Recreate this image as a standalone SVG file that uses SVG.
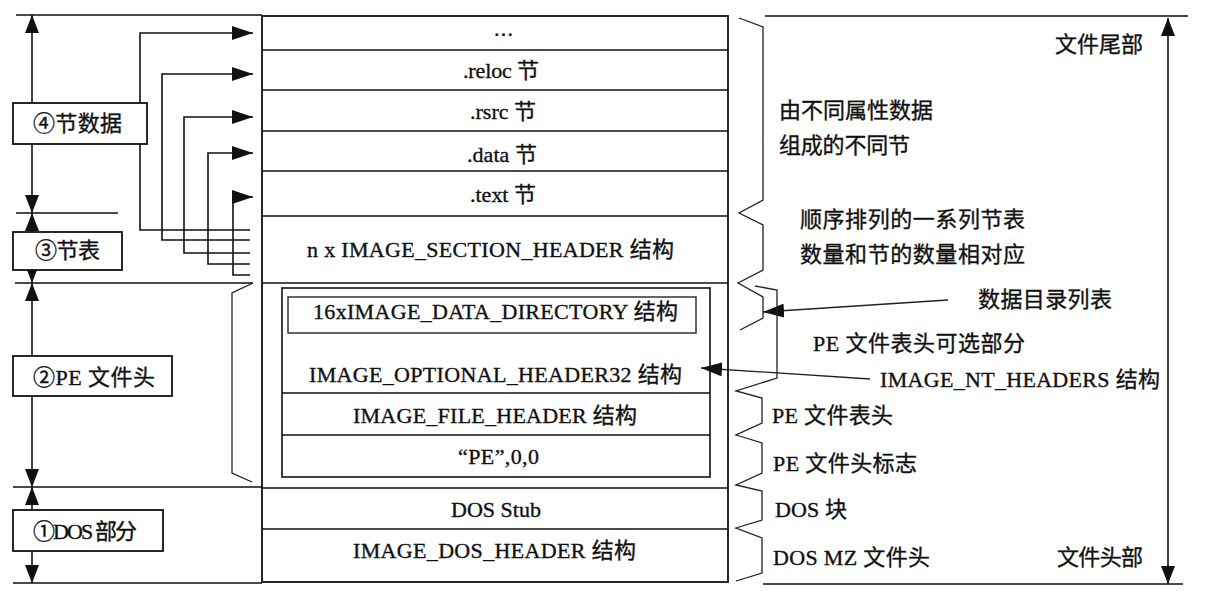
<svg xmlns="http://www.w3.org/2000/svg" width="1206" height="591" viewBox="0 0 1206 591">
<style>
text{font-family:"Liberation Serif","Noto Sans CJK SC",serif;font-size:22px;fill:#111;stroke:#111;stroke-width:0.35}
.cj{font-family:"Noto Sans CJK SC",sans-serif}
.ln{fill:none;stroke:#111;stroke-width:1.6}
.bx{fill:#fff;stroke:#111;stroke-width:1.8}
.frame{fill:none;stroke:#111;stroke-width:1.8}
.thin{fill:none;stroke:#222;stroke-width:1.3}
</style>
<defs>
<marker id="ah" markerUnits="userSpaceOnUse" markerWidth="21" markerHeight="14" refX="21" refY="7" orient="auto-start-reverse"><path d="M0,0 L21,7 L0,14 z" fill="#111"/></marker>
<marker id="av" markerUnits="userSpaceOnUse" markerWidth="18" markerHeight="14" refX="18" refY="7" orient="auto-start-reverse"><path d="M0,0 L18,7 L0,14 z" fill="#111"/></marker>
</defs>
<rect width="1206" height="591" fill="#fff"/>

<g id="guides">
<path class="ln" d="M16,15 H262 M16,213 H118 M15,283 H253 M13,487 H262 M13,583 H262 M765,16 H1188 M763,584 H1183"/>
</g>

<g id="main">
<rect class="frame" x="262" y="16" width="466" height="566"/>
<path class="ln" d="M262,50 H728 M262,90 H728 M262,131 H728 M262,171 H728 M262,216 H728 M262,283 H728 M262,488 H728 M262,529 H728"/>
<g id="r-dots"><text x="494" y="36" textLength="19">...</text></g>
<g id="r-reloc"><text x="463" y="78" textLength="76">.reloc 节</text></g>
<g id="r-rsrc"><text x="470" y="119" textLength="66">.rsrc 节</text></g>
<g id="r-data"><text x="467" y="162" textLength="70">.data 节</text></g>
<g id="r-text"><text x="470" y="202" textLength="66">.text 节</text></g>
<g id="r-sechdr"><text x="307" y="257" textLength="367">n x IMAGE_SECTION_HEADER 结构</text></g>
<g id="r-nt">
<rect class="ln" x="282" y="288" width="428" height="189"/>
<path class="ln" d="M282,393 H710 M282,435 H710"/>
<g id="r-datadir"><rect x="288" y="297" width="408" height="36" fill="none" stroke="#333" stroke-width="1.5"/><text x="313" y="319" textLength="365">16xIMAGE_DATA_DIRECTORY 结构</text></g>
<g id="r-opt"><text x="309" y="382" textLength="373">IMAGE_OPTIONAL_HEADER32 结构</text></g>
<g id="r-file"><text x="353" y="423" textLength="284">IMAGE_FILE_HEADER 结构</text></g>
<g id="r-sig"><text x="458" y="464" textLength="81">“PE”,0,0</text></g>
</g>
<g id="r-stub"><text x="451" y="517" textLength="90">DOS Stub</text></g>
<g id="r-dos"><text x="353" y="558" textLength="283">IMAGE_DOS_HEADER 结构</text></g>
</g>

<g id="connectors">
<path class="ln" d="M250,230 H140 V33 H253" marker-end="url(#ah)"/>
<path class="ln" d="M250,240 H162 V74 H253" marker-end="url(#ah)"/>
<path class="ln" d="M250,253 H184 V117 H253" marker-end="url(#ah)"/>
<path class="ln" d="M250,264 H208 V153 H253" marker-end="url(#ah)"/>
<path class="ln" d="M250,275 H233 V197 H253" marker-end="url(#ah)"/>
<path class="ln" d="M32,103 V15" marker-end="url(#av)"/>
<path class="ln" d="M32,144 V213" marker-end="url(#av)"/>
<path class="ln" d="M32,232 V213" marker-end="url(#av)"/>
<path class="ln" d="M32,270 V283" marker-end="url(#av)"/>
<path class="ln" d="M32,356 V283" marker-end="url(#av)"/>
<path class="ln" d="M32,396 V487" marker-end="url(#av)"/>
<path class="ln" d="M32,510 V487" marker-end="url(#av)"/>
<path class="ln" d="M32,551 V583" marker-end="url(#av)"/>
<path class="ln" d="M1168,584 V18" marker-start="url(#av)" marker-end="url(#av)"/>
<path class="thin" d="M948,300 L763,312" marker-end="url(#ah)"/>
<path class="thin" d="M870,379 L701,368" marker-end="url(#ah)"/>
</g>

<g id="braces">
<polyline class="thin" points="253,283 232,293 232,473 252,482"/>
<polyline class="thin" points="739,18 763,27 763,200 739,213 763,225 763,270 738,283 763,297 763,318 740,330"/>
<polyline class="thin" points="755,286 777,290 777,378 736,391 762,398 762,423 736,435 762,443 762,473 736,485 762,491 762,520 736,528 762,538 762,573 736,581"/>
</g>

<g id="left-labels">
<g id="n4"><rect class="bx" x="13" y="103" width="134" height="41"/><text x="33" y="131" textLength="89"><tspan class="cj">④</tspan>节数据</text></g>
<g id="n3"><rect class="bx" x="13" y="232" width="109" height="38"/><text x="35" y="258" textLength="65"><tspan class="cj">③</tspan>节表</text></g>
<g id="n2"><rect class="bx" x="13" y="356" width="159" height="40"/><text x="33" y="385" textLength="122"><tspan class="cj">②</tspan>PE 文件头</text></g>
<g id="n1"><rect class="bx" x="13" y="510" width="150" height="41"/><text x="33" y="539" textLength="104"><tspan class="cj">①</tspan>DOS 部分</text></g>
</g>

<g id="right-labels">
<text x="1055" y="52" textLength="88">文件尾部</text>
<text x="779" y="118" textLength="154">由不同属性数据</text>
<text x="779" y="153" textLength="131">组成的不同节</text>
<text x="800" y="227" textLength="225">顺序排列的一系列节表</text>
<text x="800" y="262" textLength="225">数量和节的数量相对应</text>
<text x="978" y="307" textLength="134">数据目录列表</text>
<text x="813" y="351" textLength="212">PE 文件表头可选部分</text>
<text x="880" y="387" textLength="280">IMAGE_NT_HEADERS 结构</text>
<text x="772" y="423" textLength="121">PE 文件表头</text>
<text x="773" y="471" textLength="144">PE 文件头标志</text>
<text x="775" y="517" textLength="72">DOS 块</text>
<text x="773" y="565" textLength="157">DOS MZ 文件头</text>
<text x="1057" y="565" textLength="86">文件头部</text>
</g>
</svg>
